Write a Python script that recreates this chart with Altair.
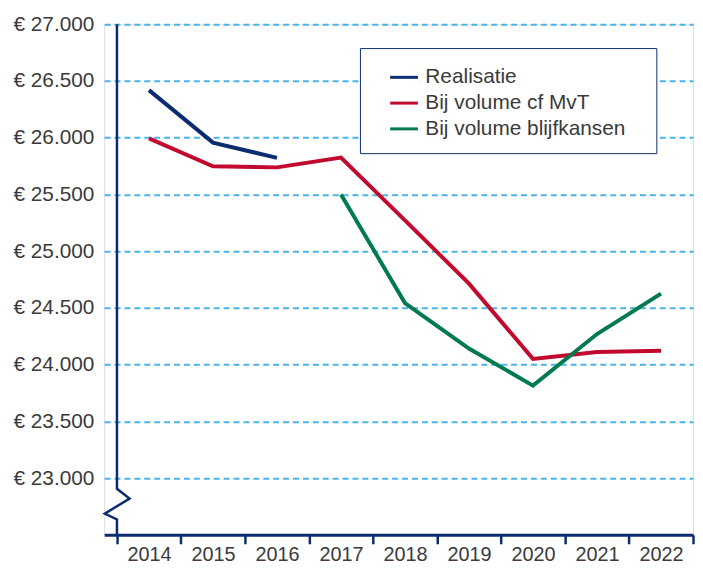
import altair as alt
import pandas as pd

# ---- data ----
years = [2014, 2015, 2016, 2017, 2018, 2019, 2020, 2021, 2022]
realisatie = [26420, 25957, 25823, None, None, None, None, None, None]
volume_mvt = [25995, 25748, 25739, 25825, 25272, 24714, 24051, 24112, 24122]
volume_blijfkansen = [None, None, None, 25500, 24543, 24142, 23815, 24270, 24626]

series_names = ["Realisatie", "Bij volume cf MvT", "Bij volume blijfkansen"]
series_colors = ["#0b2c70", "#c20a2f", "#007a4e"]

y_ticks = [23000, 23500, 24000, 24500, 25000, 25500, 26000, 26500, 27000]
x_bounds = [2013.5, 2014.5, 2015.5, 2016.5, 2017.5, 2018.5, 2019.5, 2020.5, 2021.5, 2022.5]

# y-axis line with the "broken axis" zigzag near the bottom (data space)
break_x = [2013.5, 2013.5, 2013.697, 2013.31, 2013.5, 2013.5]
break_y = [27000, 22906, 22820, 22687, 22636, 22500]

navy = "#0b2c70"
font = "Liberation Sans"
text_color = "#3a3a3a"

rows = []
for name, vals in zip(series_names, [realisatie, volume_mvt, volume_blijfkansen]):
    for yr, v in zip(years, vals):
        if v is not None:
            rows.append({"series": name, "year": yr, "value": v})
df = pd.DataFrame(rows)

break_df = pd.DataFrame({"year": break_x, "value": break_y, "i": list(range(len(break_x)))})

x_scale = alt.Scale(domain=[2013.3, 2022.5], nice=False, zero=False)
y_scale = alt.Scale(domain=[22500, 27000], nice=False, zero=False)

x_axis = alt.Axis(
    values=x_bounds,
    labelExpr="datum.value > 2022 ? '' : '' + (datum.value + 0.5)",
    labelOffset={"condition": {"test": "datum.value > 2022", "value": 0}, "value": 32.3},
    tickSize=9,
    tickWidth=2.5,
    tickColor=navy,
    domainColor=navy,
    domainWidth=3,
    labelFontSize=20,
    labelFont=font,
    labelColor=text_color,
    labelPadding=1,
    labelFlush=False,
    labelOverlap=False,
    grid=False,
    title=None,
)
y_axis = alt.Axis(
    values=y_ticks,
    labelExpr="'€ ' + replace(format(datum.value, ','), ',', '.')",
    labelAlign="left",
    labelPadding=92,
    labelFontSize=21,
    labelFont=font,
    labelColor=text_color,
    labelFlush=False,
    domain=False,
    ticks=False,
    grid=True,
    gridColor="#4bb4e6",
    gridDash=[6, 4],
    gridWidth=2,
    title=None,
)

x_enc = alt.X("year:Q", scale=x_scale, axis=x_axis)
y_enc = alt.Y("value:Q", scale=y_scale, axis=y_axis)

axis_line = alt.Chart(break_df).mark_line(
    color=navy, strokeWidth=2.5, clip=False
).encode(x=x_enc, y=y_enc, order="i:Q")

lines = alt.Chart(df).mark_line(strokeWidth=4).encode(
    x=x_enc,
    y=y_enc,
    color=alt.Color(
        "series:N",
        scale=alt.Scale(domain=series_names, range=series_colors),
        sort=series_names,
        legend=alt.Legend(
            orient="none",
            legendX=258,
            legendY=24,
            title="\u00a0",
            titleOrient="right",
            titlePadding=17,
            titleFontSize=21,
            strokeColor=navy,
            fillColor="white",
            padding=14,
            rowPadding=0,
            labelFontSize=21,
            labelFont=font,
            labelColor=text_color,
            labelLimit=400,
            symbolType="stroke",
            symbolStrokeWidth=3,
            symbolSize=784,
            symbolOffset=15,
            labelOffset=6,
        ),
    ),
    detail="series:N",
)

chart = (
    alt.layer(axis_line, lines)
    .properties(width=594, height=515, padding={"left": 5, "top": 3, "right": 0, "bottom": 0})
    .configure_view(stroke=None)
    .configure_legend(strokeWidth=2.5)
    .configure(background="white")
)

chart.save("out.html", embed_options={"renderer": "svg", "actions": False})
